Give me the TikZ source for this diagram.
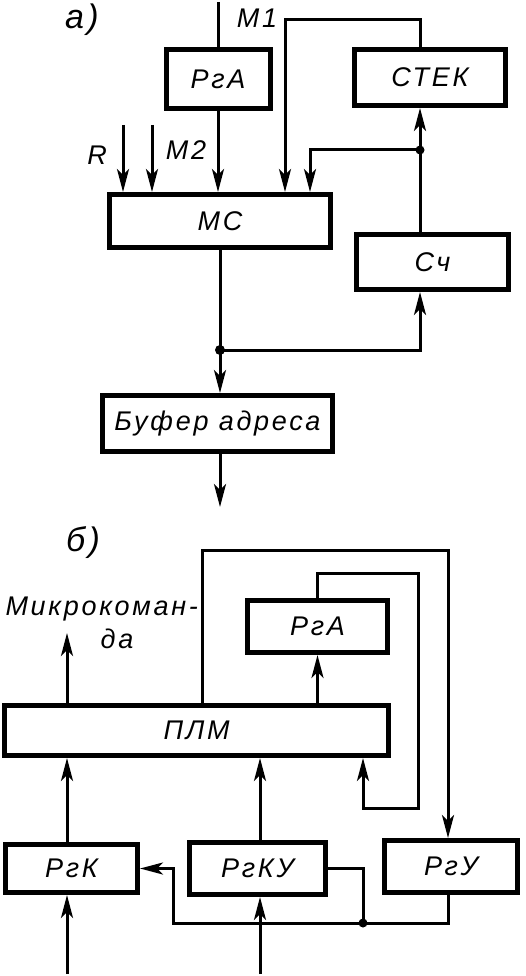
\documentclass[tikz,border=0pt]{standalone}
\usepackage{fontspec}
\setmainfont{Liberation Sans}[LetterSpace=10]
\usetikzlibrary{arrows.meta}
\begin{document}
\begin{tikzpicture}[x=1pt,y=-1pt,line width=3pt,
  font=\fontsize{27}{30}\selectfont\itshape,
  blk/.style={draw,line width=5pt,inner sep=0pt},
  arr/.style={-{Stealth[length=23pt,width=12pt,inset=6pt]}},
  lbl/.style={inner sep=0pt},
  part/.style={inner sep=0pt,font=\fontsize{34}{36}\selectfont\itshape}]
\useasboundingbox (0,0) rectangle (526,976);
% a)
\node[part] (la) at (82,20) {а)};
\node[blk,minimum width=104,minimum height=59] (rga) at (218,79) {РгА};
\node[blk,minimum width=151,minimum height=56] (stek) at (430,77.5) {СТЕК};
\node[blk,minimum width=221,minimum height=53] (mc) at (220,221) {МС};
\node[blk,minimum width=152,minimum height=55] (sch) at (432.5,262) {Сч};
\node[blk,minimum width=230,minimum height=56] (buf) at (217.5,423.5) {Буфер адреса};
\coordinate (m1) at (218,2);
\coordinate (rin) at (123,125);
\coordinate (m2in) at (152,125);
\coordinate (loop) at (285,20);
\coordinate (j1) at (420,150);
\coordinate (fb) at (310,150);
\coordinate (j2) at (220,350);
\coordinate (aout) at (220,507);
\node[lbl] (lm1) at (257,18) {M1};
\node[lbl] (lr) at (97,155) {R};
\node[lbl] (lm2) at (186,150) {M2};
\draw (m1) -- (rga.north);
\draw[arr] (rga.south) -- (rga.south |- mc.north);
\draw[arr] (rin) -- (rin |- mc.north);
\draw[arr] (m2in) -- (m2in |- mc.north);
\draw[arr] (stek.north -| j1) |- (loop) -- (loop |- mc.north);
\draw[arr] (j1) -| (mc.north -| fb);
\draw[arr] (sch.north -| j1) -- (stek.south -| j1);
\draw (mc.south -| j2) -- (j2);
\draw[arr] (j2) -| (sch.south -| j1);
\draw[arr] (j2) -- (buf.north -| j2);
\draw[arr] (buf.south -| j2) -- (aout);
\fill (j1) circle[radius=4.5pt];
\fill (j2) circle[radius=5pt];
% b)
\node[part] (lb) at (83,543) {б)};
\node[blk,minimum width=384,minimum height=50] (plm) at (196.5,730.5) {ПЛМ};
\node[blk,minimum width=140,minimum height=52] (rga2) at (317.5,626.5) {РгА};
\node[blk,minimum width=132,minimum height=48] (rgk) at (71.5,868.5) {РгК};
\node[blk,minimum width=136,minimum height=52] (rgku) at (257.5,868.5) {РгКУ};
\node[blk,minimum width=133,minimum height=52] (rgu) at (451,866.5) {РгУ};
\node[lbl,anchor=west] (lmk) at (4,609) {Микрокоман-};
\node[lbl] (lda) at (117,639) {да};
\coordinate (mk) at (67,633);
\coordinate (l1) at (202,550);
\coordinate (l2) at (448,550);
\coordinate (l3) at (418,573);
\coordinate (l4) at (363,808);
\coordinate (kin) at (67,974);
\coordinate (kuin) at (260,974);
\coordinate (j3) at (363,923);
\coordinate (l5) at (173,923);
\draw[arr] (plm.north -| mk) -- (mk);
\draw[arr] (plm.north -| rga2) -- (rga2.south);
\draw[arr] (plm.north -| l1) |- (l2) -- (rgu.north -| l2);
\draw[arr] (rga2.north) |- (l3) |- (l4) -- (plm.south -| l4);
\draw[arr] (rgk.north -| mk) -- (plm.south -| mk);
\draw[arr] (rgku.north -| kuin) -- (plm.south -| kuin);
\draw[arr] (kin) -- (rgk.south -| kin);
\draw[arr] (kuin) -- (rgku.south -| kuin);
\draw (rgku.east) -| (j3);
\draw[arr] (rgu.south -| l2) |- (l5) |- (rgk.east);
\fill (j3) circle[radius=4.5pt];
\end{tikzpicture}
\end{document}
